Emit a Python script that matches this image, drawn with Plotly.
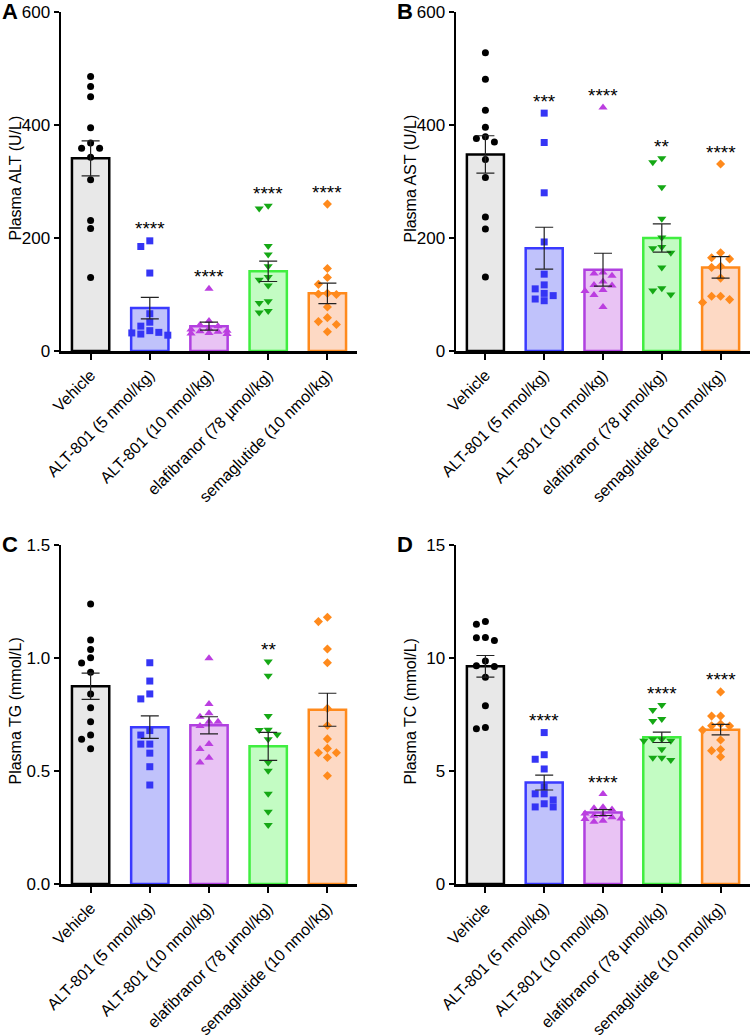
import plotly.graph_objects as go

categories = ["Vehicle", "ALT-801 (5 nmol/kg)", "ALT-801 (10 nmol/kg)",
              "elafibranor (78 \u00b5mol/kg)", "semaglutide (10 nmol/kg)"]

# ---- Panel A: Plasma ALT (U/L)
alt_vehicle = [486, 468, 450, 395, 368, 359, 359, 343, 303, 231, 217, 130]
alt_alt5 = [195, 185, 138, 66, 51, 44, 36, 33, 32, 30, 28]
alt_alt10 = [110, 53, 46, 44, 40, 38, 36, 35, 34, 32, 31, 30]
alt_elaf = [257, 252, 186, 171, 150, 131, 126, 116, 88, 85, 71, 68]
alt_sema = [260, 146, 130, 118, 102, 101, 100, 78, 59, 52, 47, 34]
alt_mean = [341, 76, 44, 141, 102]
alt_sem = [31, 19, 7, 18, 18]
alt_stars = ["", "****", "****", "****", "****"]

# ---- Panel B: Plasma AST (U/L)
ast_vehicle = [528, 481, 426, 396, 379, 376, 370, 339, 307, 237, 216, 131]
ast_alt5 = [421, 369, 280, 193, 136, 117, 110, 102, 98, 92, 89]
ast_alt10 = [431, 139, 137, 133, 123, 117, 116, 108, 106, 99, 78]
ast_elaf = [341, 334, 290, 234, 201, 184, 182, 174, 148, 111, 107, 100]
ast_sema = [331, 174, 165, 163, 150, 148, 129, 97, 97, 91, 86]
ast_mean = [348, 182, 144, 200, 148]
ast_sem = [33, 37, 29, 25, 19]
ast_stars = ["", "***", "****", "**", "****"]

# ---- Panel C: Plasma TG (mmol/L)
tg_vehicle = [1.239, 1.080, 1.038, 1.001, 0.978, 0.937, 0.841, 0.780, 0.718, 0.659, 0.640, 0.599]
tg_alt5 = [0.979, 0.898, 0.841, 0.819, 0.679, 0.659, 0.619, 0.619, 0.579, 0.519, 0.438]
tg_alt10 = [0.999, 0.796, 0.755, 0.740, 0.718, 0.718, 0.699, 0.619, 0.597, 0.559, 0.538]
tg_elaf = [0.984, 0.922, 0.743, 0.683, 0.681, 0.662, 0.640, 0.538, 0.501, 0.399, 0.320, 0.261]
tg_sema = [1.180, 1.161, 1.040, 0.979, 0.777, 0.701, 0.642, 0.600, 0.581, 0.581, 0.560, 0.479]
tg_mean = [0.875, 0.694, 0.702, 0.609, 0.771]
tg_sem = [0.058, 0.050, 0.038, 0.062, 0.073]
tg_stars = ["", "", "", "**", ""]

# ---- Panel D: Plasma TC (mmol/L)
tc_vehicle = [11.61, 11.49, 10.90, 10.77, 10.91, 9.62, 9.87, 9.66, 9.15, 7.89, 6.87, 6.92]
tc_alt5 = [6.70, 5.72, 5.52, 5.09, 4.30, 3.99, 3.99, 3.72, 3.55, 3.41, 3.41]
tc_alt10 = [3.98, 3.40, 3.35, 3.30, 3.12, 3.05, 3.02, 2.95, 2.90, 2.88, 2.80, 2.75]
tc_elaf = [7.92, 7.70, 7.30, 7.21, 6.40, 6.34, 6.34, 6.40, 5.96, 5.49, 5.59, 5.59]
tc_sema = [8.50, 7.43, 7.43, 7.08, 7.00, 6.99, 6.81, 6.37, 5.95, 5.90, 5.63]
tc_mean = [9.63, 4.49, 3.16, 6.49, 6.83]
tc_sem = [0.48, 0.33, 0.13, 0.23, 0.23]
tc_stars = ["", "****", "****", "****", "****"]

# ---- styles
bar_fill = ["#e8e8e8", "#c0c2fb", "#e9c3f4", "#c3fcc3", "#fdd9c4"]
bar_line = ["#000000", "#3a3aff", "#b040e0", "#40ee40", "#ff8a1c"]
mk_color = ["#000000", "#3535f5", "#bb3ee0", "#15a815", "#ff8a1c"]
mk_symbol = ["circle", "square", "triangle-up", "triangle-down", "diamond"]
mk_size = [7, 7, 8, 8, 7]

W, H = 751, 1036
FONT = "Arial, Liberation Sans, Helvetica, sans-serif"

panels = [
    dict(letter="A", title="Plasma ALT (U/L)", groups=[alt_vehicle, alt_alt5, alt_alt10, alt_elaf, alt_sema],
         mean=alt_mean, sem=alt_sem, stars=alt_stars, ymax=600, dtick=200, fmt="d",
         px=(61, 357), py=(12, 351)),
    dict(letter="B", title="Plasma AST (U/L)", groups=[ast_vehicle, ast_alt5, ast_alt10, ast_elaf, ast_sema],
         mean=ast_mean, sem=ast_sem, stars=ast_stars, ymax=600, dtick=200, fmt="d",
         px=(456, 750), py=(12, 351)),
    dict(letter="C", title="Plasma TG (mmol/L)", groups=[tg_vehicle, tg_alt5, tg_alt10, tg_elaf, tg_sema],
         mean=tg_mean, sem=tg_sem, stars=tg_stars, ymax=1.5, dtick=0.5, fmt=".1f",
         px=(61, 357), py=(545, 884)),
    dict(letter="D", title="Plasma TC (mmol/L)", groups=[tc_vehicle, tc_alt5, tc_alt10, tc_elaf, tc_sema],
         mean=tc_mean, sem=tc_sem, stars=tc_stars, ymax=15, dtick=5, fmt="d",
         px=(456, 750), py=(545, 884)),
]


def swarm(vals, px_per_y, px_per_cat, diam=7.0, step=9.0, kmax=2):
    """Simple beeswarm: spread points of similar value sideways (max kmax columns each side)."""
    placed = []
    offs = [0.0] * len(vals)
    order = sorted(range(len(vals)), key=lambda i: -vals[i])
    cands = [0.0]
    for j in range(1, kmax + 1):
        cands += [-j * step, j * step]
    for i in order:
        yp = vals[i] * px_per_y
        best, best_d = None, -1.0
        for c in cands:
            dmin = min([((c - a) ** 2 + (yp - b) ** 2) ** 0.5 for a, b in placed] or [1e9])
            if dmin >= diam:
                best = c
                break
            if dmin > best_d:
                best, best_d = c, dmin
        placed.append((best, yp))
        offs[i] = best / px_per_cat
    return offs


fig = go.Figure()
annotations = []
layout_axes = {}

for k, p in enumerate(panels):
    n = k + 1
    xa = "x" if n == 1 else f"x{n}"
    ya = "y" if n == 1 else f"y{n}"
    xdom = [p["px"][0] / W, p["px"][1] / W]
    ydom = [1 - p["py"][1] / H, 1 - p["py"][0] / H]
    px_per_y = (p["py"][1] - p["py"][0]) / p["ymax"]
    px_per_cat = (p["px"][1] - p["px"][0]) / 5.0

    # bars
    fig.add_trace(go.Bar(
        x=list(range(5)), y=p["mean"], width=0.63,
        marker=dict(color=bar_fill, line=dict(color=bar_line, width=2.5)),
        xaxis=xa, yaxis=ya, hoverinfo="skip"))

    # points
    for g, vals in enumerate(p["groups"]):
        offs = swarm(vals, px_per_y, px_per_cat)
        fig.add_trace(go.Scatter(
            x=[g + o for o in offs], y=vals, mode="markers",
            marker=dict(symbol=mk_symbol[g], size=mk_size[g], color=mk_color[g], line=dict(width=0)),
            xaxis=xa, yaxis=ya, hoverinfo="skip"))

    # error bars (mean +/- SEM)
    fig.add_trace(go.Scatter(
        x=list(range(5)), y=p["mean"], mode="markers",
        marker=dict(size=1, color="rgba(0,0,0,0)"),
        error_y=dict(type="data", array=p["sem"], color="#222222", thickness=1.2, width=9),
        xaxis=xa, yaxis=ya, hoverinfo="skip"))

    # significance stars
    for g, s in enumerate(p["stars"]):
        if s:
            annotations.append(dict(
                x=g, y=max(p["groups"][g]) + 0.047 * p["ymax"], xref=xa, yref=ya,
                text=s, showarrow=False, yanchor="middle", yshift=-4,
                font=dict(family=FONT, size=19, color="#000")))

    layout_axes["xaxis" if n == 1 else f"xaxis{n}"] = dict(
        domain=xdom, anchor=ya, range=[-0.5, 4.5], automargin=False,
        tickvals=list(range(5)), ticktext=categories, tickangle=-45,
        showline=True, linecolor="black", linewidth=2.5,
        ticks="outside", ticklen=6, tickwidth=2, tickcolor="black",
        showgrid=False, zeroline=False, fixedrange=True,
        tickfont=dict(family=FONT, size=16, color="black"))
    layout_axes["yaxis" if n == 1 else f"yaxis{n}"] = dict(
        domain=ydom, anchor=xa, range=[0, p["ymax"]], dtick=p["dtick"], tick0=0,
        tickformat=p["fmt"], automargin=False,
        showline=True, linecolor="black", linewidth=2.5,
        ticks="outside", ticklen=5, tickwidth=2, tickcolor="black",
        showgrid=False, zeroline=False, fixedrange=True,
        tickfont=dict(family=FONT, size=17, color="black"))

    # axis title
    annotations.append(dict(
        x=(p["px"][0] - 46) / W, y=1 - ((p["py"][0] + p["py"][1]) / 2 - 3) / H,
        xref="paper", yref="paper", text=p["title"], textangle=-90,
        showarrow=False, xanchor="center", yanchor="middle",
        font=dict(family=FONT, size=16, color="black")))
    # panel letter
    annotations.append(dict(
        x=(p["px"][0] - 51) / W, y=1 - (p["py"][0] - 1) / H,
        xref="paper", yref="paper", text=f"<b>{p['letter']}</b>",
        showarrow=False, xanchor="center", yanchor="middle",
        font=dict(family=FONT, size=22, color="black")))

fig.update_layout(
    width=W, height=H, margin=dict(l=0, r=0, t=0, b=0),
    paper_bgcolor="white", plot_bgcolor="white", showlegend=False,
    bargap=0.37, annotations=annotations, **layout_axes)

fig.write_html("out.html", config={"displayModeBar": False, "staticPlot": True},
               post_script="document.body.style.margin='0';document.body.style.padding='0';"
                           "document.documentElement.style.overflow='hidden';")
